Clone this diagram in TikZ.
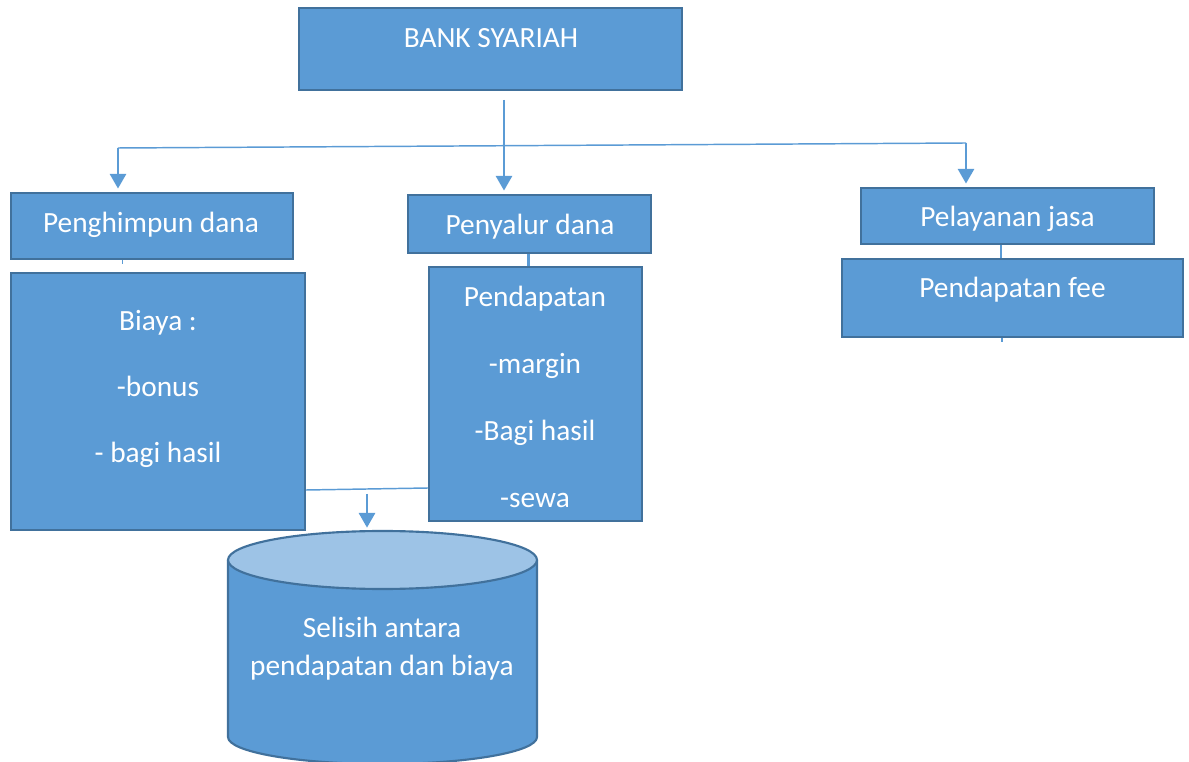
\documentclass[tikz,border=0pt]{standalone}
\usepackage{fontspec}
\setmainfont{Carlito}
\usetikzlibrary{arrows.meta}
\begin{document}
\begin{tikzpicture}[x=0.75pt,y=-0.75pt]
  \definecolor{boxfill}{HTML}{5B9BD5}
  \definecolor{boxline}{HTML}{41719C}
  \definecolor{captop}{HTML}{9DC3E6}
  \tikzset{
    panel/.style={draw=boxline,fill=boxfill,line width=1.6pt,inner sep=0pt},
    caption/.style={text=white,font=\fontsize{22}{26}\selectfont,anchor=base,inner sep=0pt},
    link/.style={draw=boxfill,line width=2pt},
    bus/.style={draw=boxfill,line width=1.1pt},
    down/.style={link,-{Triangle[width=12pt,length=11pt]},shorten >=2.5pt}
  }
  \useasboundingbox (0,0) rectangle (1189,762);

  % boxes
  \node[panel,minimum width=383*.75pt,minimum height=82*.75pt] (bank) at (490.5,49) {};
  \node[panel,minimum width=282*.75pt,minimum height=66*.75pt] (himpun) at (152,226) {};
  \node[panel,minimum width=294*.75pt,minimum height=257*.75pt] (biaya) at (158,401.5) {};
  \node[panel,minimum width=243*.75pt,minimum height=58*.75pt] (salur) at (529.5,224) {};
  \node[panel,minimum width=213*.75pt,minimum height=254*.75pt] (dapat) at (535.5,394) {};
  \node[panel,minimum width=293*.75pt,minimum height=56*.75pt] (jasa) at (1007.5,216) {};
  \node[panel,minimum width=341*.75pt,minimum height=78*.75pt] (fee) at (1012.5,298) {};

  % cylinder for the result
  \fill[boxfill] (228,560) -- (228,737) arc[start angle=180,end angle=0,x radius=154.5,y radius=27] -- (537,560) -- cycle;
  \draw[boxline,line width=1.6pt] (228,560) -- (228,737) arc[start angle=180,end angle=0,x radius=154.5,y radius=27] -- (537,560);
  \draw[boxline,line width=1.6pt,fill=captop] (382.5,560) ellipse[x radius=154.5,y radius=29];
  \coordinate (cyltop) at (382.5,531);

  % connectors
  \coordinate (trunk) at (504,100);
  \coordinate (busL) at (118,148);
  \coordinate (busR) at (966,143);
  \coordinate (merge) at (367,494);
  \draw[bus] (busL) -- (busR);
  \draw[down] (trunk) -- (trunk |- salur.north);
  \draw[down] (busL) -- (busL |- himpun.north);
  \draw[down] (busR) -- (busR |- jasa.north);
  \draw[link] ([xshift=-1pt]salur.south) -- ([xshift=-1pt]salur.south |- dapat.north);
  \draw[link] ([xshift=-5pt]jasa.south) -- ([xshift=-5pt]jasa.south |- fee.north);
  \draw[bus] ([xshift=-22pt]himpun.south) -- +(0,4);
  \draw[bus] ([xshift=-8pt]fee.south) -- +(0,4);
  \draw[bus] (biaya.east |- 0,490) -- (dapat.west |- 0,488);
  \draw[down] (merge) -- (merge |- cyltop);

  % texts
  \node[caption] (t-bank) at (491,48) {BANK SYARIAH};
  \node[caption] (t-himpun) at (151,233) {Penghimpun dana};
  \node[caption] (t-salur) at (530,235) {Penyalur dana};
  \node[caption] (t-jasa) at (1007.5,227) {Pelayanan jasa};
  \node[caption] (t-fee) at (1012.5,298) {Pendapatan fee};
  \node[caption] (t-biaya1) at (158,331) {Biaya :};
  \node[caption] (t-biaya2) at (158,397) {-bonus};
  \node[caption] (t-biaya3) at (158,463) {- bagi hasil};
  \node[caption] (t-dapat1) at (535,307) {Pendapatan};
  \node[caption] (t-dapat2) at (535,374) {-margin};
  \node[caption] (t-dapat3) at (535,441) {-Bagi hasil};
  \node[caption] (t-dapat4) at (535,508) {-sewa};
  \node[caption] (t-selisih1) at (382,637) {Selisih antara};
  \node[caption] (t-selisih2) at (382,675) {pendapatan dan biaya};
\end{tikzpicture}
\end{document}
